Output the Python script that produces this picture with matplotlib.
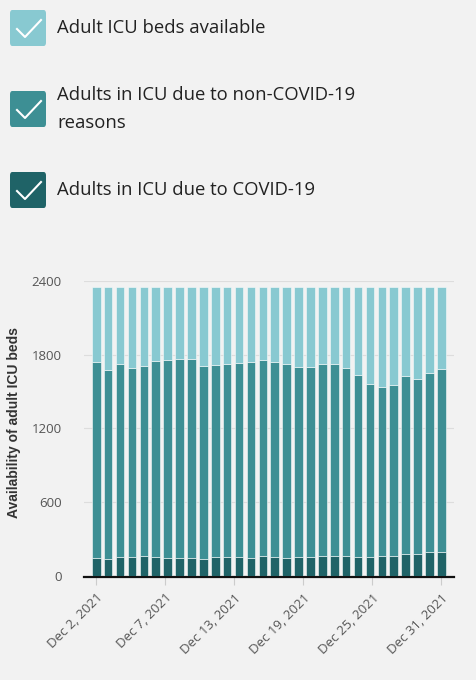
import matplotlib
matplotlib.use("Agg")
import matplotlib.pyplot as plt
from matplotlib.patches import FancyBboxPatch
from matplotlib.lines import Line2D
import numpy as np

# --- data ---
dates = [f"Dec {d}, 2021" for d in range(2, 32)]
covid = [149, 141, 155, 158, 163, 158, 149, 149, 144, 141, 152, 155, 155, 149, 163,
         155, 149, 155, 158, 163, 163, 163, 158, 158, 160, 166, 179, 179, 193, 198]
non_covid = [1593, 1531, 1565, 1533, 1541, 1592, 1610, 1618, 1620, 1566, 1560, 1568,
             1576, 1591, 1593, 1582, 1571, 1544, 1541, 1557, 1557, 1528, 1478, 1405,
             1378, 1389, 1449, 1425, 1457, 1484]
available = [603, 673, 625, 654, 641, 595, 586, 578, 581, 638, 633, 622, 614, 605, 589,
             608, 625, 646, 646, 625, 625, 654, 709, 782, 807, 790, 717, 741, 695, 663]
series_labels = ["Adult ICU beds available",
                 "Adults in ICU due to non-COVID-19\nreasons",
                 "Adults in ICU due to COVID-19"]
y_ticks = [0, 600, 1200, 1800, 2400]

C_LIGHT, C_MID, C_DARK = "#88c9d1", "#3d8f94", "#1f6367"
BG = "#f2f2f2"
W, H = 477, 680

fig = plt.figure(figsize=(W / 100, H / 100), dpi=100, facecolor=BG)


def fx(px):
    return px / W


def fy(py):
    return 1 - py / H


# legend with check-box icons
legend_rows = [(C_LIGHT, 28, 28), (C_MID, 109, 109), (C_DARK, 190, 190)]
for (col, box_cy, text_cy), lab in zip(legend_rows, series_labels):
    box = FancyBboxPatch((fx(10), fy(box_cy + 18)), fx(36), 36 / H,
                         boxstyle="round,pad=0,rounding_size=0.005",
                         transform=fig.transFigure, facecolor=col, edgecolor="none")
    fig.patches.append(box)
    fig.lines.append(Line2D([fx(17), fx(25), fx(41)],
                            [fy(box_cy + 1), fy(box_cy + 9), fy(box_cy - 8)],
                            transform=fig.transFigure, color="white", lw=1.5))
    fig.text(fx(57), fy(text_cy), lab, fontsize=13.3, family="Open Sans",
             color="#222222", va="center", ha="left", linespacing=1.7)

ax = fig.add_axes([fx(84), fy(576), fx(454) - fx(84), fy(280.7) - fy(576)])
ax.set_facecolor(BG)

# spine position first: moving it resets the tick objects
for side in ["top", "right", "left"]:
    ax.spines[side].set_visible(False)
ax.spines["bottom"].set_position(("outward", 1))
ax.spines["bottom"].set_color("#111111")
ax.spines["bottom"].set_linewidth(1.6)

x = np.arange(len(dates))
bottom2 = np.array(covid) + np.array(non_covid)
kw = dict(width=0.72, edgecolor="#f7fbfb", linewidth=0.4, zorder=3)
ax.bar(x, covid, color=C_DARK, **kw)
ax.bar(x, non_covid, bottom=covid, color=C_MID, **kw)
ax.bar(x, available, bottom=bottom2, color=C_LIGHT, **kw)

ax.set_xlim(-1.03, 30.06)
ax.set_ylim(0, 2400)
ax.grid(axis="y", color="#dddddd", lw=0.8, zorder=0)
ax.tick_params(axis="y", length=0, pad=16)
ax.tick_params(axis="x", length=6, color="#cccccc", width=0.8, pad=4)

ax.set_yticks(y_ticks)
ax.set_yticklabels([str(v) for v in y_ticks], family="Open Sans", fontsize=9.5,
                   color="#555555")

tick_pos = np.linspace(0, len(dates) - 1, 6)
ax.set_xticks(tick_pos)
ax.set_xticklabels([dates[int(p)] for p in tick_pos], family="Open Sans",
                   fontsize=9.5, color="#555555", rotation=45, ha="right",
                   rotation_mode="anchor")

ax.set_ylabel("Availability of adult ICU beds", family="Liberation Sans",
              fontweight="bold", fontsize=10, color="#333333")
ax.yaxis.set_label_coords(-0.17, 0.52)

fig.savefig("out.png", dpi=100, facecolor=BG)
